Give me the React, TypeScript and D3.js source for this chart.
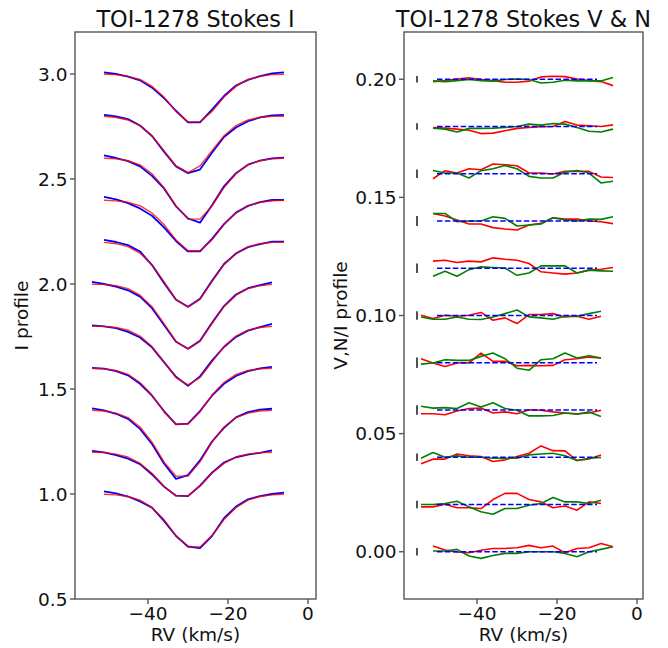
import React from "react";
import * as d3 from "d3";

const W = 668;
const H = 648;

// velocity grids (km/s)
const velA = [-51, -48, -45, -42, -39, -36, -33, -30, -27, -24, -21, -18, -15, -12, -9, -6];
const velB = [-54, -51, -48, -45, -42, -39, -36, -33, -30, -27, -24, -21, -18, -15, -12, -9];
// which grid each observation (bottom to top) uses
const rowGrid = ["A", "B", "B", "B", "B", "B", "A", "A", "A", "A", "A"];

const iOffsets = [0, 0.2, 0.4, 0.6, 0.8, 1.0, 1.2, 1.4, 1.6, 1.8, 2.0];
const vOffsets = [0, 0.02, 0.04, 0.06, 0.08, 0.1, 0.12, 0.14, 0.16, 0.18, 0.2];

// Stokes I observed (blue)
const iObs = [
  [1.012, 1.003, 0.988, 0.965, 0.935, 0.872, 0.8, 0.75, 0.742, 0.8, 0.885, 0.94, 0.975, 0.99, 1.0, 1.007],
  [1.005, 0.998, 0.985, 0.968, 0.942, 0.893, 0.835, 0.792, 0.79, 0.84, 0.902, 0.95, 0.975, 0.988, 0.996, 1.008],
  [1.008, 0.998, 0.982, 0.958, 0.91, 0.838, 0.745, 0.672, 0.69, 0.76, 0.85, 0.915, 0.965, 0.99, 1.002, 1.006],
  [1.0, 0.997, 0.985, 0.965, 0.925, 0.868, 0.795, 0.732, 0.735, 0.795, 0.868, 0.925, 0.962, 0.985, 0.998, 1.005],
  [1.003, 0.998, 0.99, 0.972, 0.945, 0.898, 0.828, 0.758, 0.715, 0.76, 0.835, 0.9, 0.948, 0.978, 0.995, 1.01],
  [1.01, 1.0, 0.988, 0.97, 0.94, 0.885, 0.805, 0.725, 0.692, 0.73, 0.815, 0.895, 0.95, 0.98, 0.995, 1.008],
  [1.01, 1.0, 0.985, 0.955, 0.89, 0.805, 0.725, 0.692, 0.73, 0.815, 0.895, 0.945, 0.975, 0.99, 1.002, 1.002],
  [1.015, 1.003, 0.985, 0.96, 0.925, 0.87, 0.805, 0.755, 0.755, 0.815, 0.885, 0.94, 0.972, 0.99, 1.0, 1.0],
  [1.012, 1.0, 0.985, 0.96, 0.915, 0.855, 0.77, 0.712, 0.692, 0.775, 0.865, 0.928, 0.968, 0.988, 0.998, 1.002],
  [1.005, 0.998, 0.985, 0.955, 0.905, 0.83, 0.76, 0.728, 0.745, 0.825, 0.9, 0.945, 0.975, 0.993, 1.003, 1.005],
  [1.008, 1.0, 0.988, 0.97, 0.935, 0.885, 0.825, 0.77, 0.77, 0.83, 0.895, 0.945, 0.972, 0.99, 1.003, 1.008],
];

// Stokes I model (red)
const iModel = [
  [0.999, 0.996, 0.988, 0.971, 0.935, 0.878, 0.802, 0.748, 0.748, 0.802, 0.878, 0.935, 0.971, 0.988, 0.996, 0.999],
  [0.999, 0.997, 0.99, 0.976, 0.946, 0.899, 0.837, 0.791, 0.791, 0.837, 0.899, 0.946, 0.976, 0.99, 0.997, 0.999],
  [0.998, 0.995, 0.985, 0.964, 0.919, 0.847, 0.753, 0.685, 0.685, 0.753, 0.847, 0.919, 0.964, 0.985, 0.995, 0.998],
  [0.999, 0.996, 0.988, 0.97, 0.931, 0.871, 0.791, 0.733, 0.733, 0.791, 0.871, 0.931, 0.97, 0.988, 0.996, 0.999],
  [0.999, 0.998, 0.993, 0.98, 0.952, 0.902, 0.829, 0.754, 0.72, 0.754, 0.829, 0.902, 0.952, 0.98, 0.993, 0.998],
  [0.999, 0.998, 0.992, 0.978, 0.947, 0.892, 0.811, 0.727, 0.69, 0.727, 0.811, 0.892, 0.947, 0.978, 0.992, 0.998],
  [0.998, 0.992, 0.978, 0.947, 0.892, 0.811, 0.727, 0.69, 0.727, 0.811, 0.892, 0.947, 0.978, 0.992, 0.998, 0.999],
  [0.999, 0.996, 0.989, 0.973, 0.938, 0.883, 0.81, 0.758, 0.758, 0.81, 0.883, 0.938, 0.973, 0.989, 0.996, 0.999],
  [0.999, 0.996, 0.987, 0.967, 0.925, 0.859, 0.772, 0.709, 0.709, 0.772, 0.859, 0.925, 0.967, 0.987, 0.996, 0.999],
  [0.998, 0.993, 0.981, 0.954, 0.906, 0.835, 0.762, 0.73, 0.762, 0.835, 0.906, 0.954, 0.981, 0.993, 0.998, 0.999],
  [0.999, 0.997, 0.989, 0.974, 0.941, 0.89, 0.821, 0.772, 0.772, 0.821, 0.89, 0.941, 0.974, 0.989, 0.997, 0.999],
];

// Stokes V / I (red)
const stokesV = [
  [0.0024, 0.0007, -0.0001, -0.0004, 0.0006, 0.0014, 0.0014, 0.0017, 0.0027, 0.0017, 0.0024, -0.0004, 0.0014, 0.0017, 0.0035, 0.0021],
  [-0.001, -0.001, 0.0001, -0.0014, -0.0014, -0.0017, 0.0021, 0.0047, 0.0047, 0.0021, 0.0011, -0.0014, -0.0006, -0.0024, 0.0011, 0.0004],
  [-0.0028, -0.0008, -0.0008, 0.0014, 0.0006, 0.0003, -0.0018, -0.0011, 0.0003, 0.0017, 0.0048, 0.0028, 0.0027, -0.0014, -0.0007, 0.001],
  [-0.0016, -0.0016, -0.002, -0.0004, 0.0006, 0.0008, -0.0013, -0.0008, -0.0016, 0.0001, -0.0001, -0.0008, -0.0013, -0.0016, -0.0013, -0.0001],
  [0.0017, -0.0001, -0.0016, -0.0001, -0.0001, 0.0041, 0.0006, 0.0006, -0.0013, -0.0011, -0.0013, -0.0011, 0.0013, 0.0017, 0.0024, 0.002],
  [0.0001, -0.0013, 0.0001, -0.0003, 0.0001, 0.0013, -0.002, -0.001, -0.0034, 0.0004, 0.0004, 0.0008, -0.0006, -0.0003, -0.0016, -0.0003],
  [0.003, 0.0034, 0.0024, 0.003, 0.0027, 0.0044, 0.0038, 0.0034, 0.002, -0.0015, -0.002, -0.0025, -0.002, -0.0008, -0.0004, 0.0003],
  [0.0032, 0.0021, 0.0004, -0.0013, -0.0013, -0.0028, -0.0034, -0.0038, -0.0017, -0.001, 0.0014, 0.0008, 0.0008, 0.0, -0.0003, -0.0011],
  [-0.0021, 0.0013, 0.0003, 0.0021, 0.0017, 0.0041, 0.0038, 0.0034, 0.0003, 0.0003, -0.0001, 0.001, 0.001, 0.001, -0.0014, -0.0016],
  [-0.0004, -0.0007, -0.0011, -0.0016, -0.003, -0.0028, -0.0018, -0.0008, -0.0004, -0.0001, 0.0, 0.0021, 0.0006, 0.0003, 0.0, 0.0007],
  [-0.001, -0.0006, 0.0001, 0.0006, -0.0001, -0.0006, -0.0013, -0.0013, -0.0008, 0.001, 0.0013, 0.0011, 0.0001, -0.0006, -0.001, -0.0027],
];

// Null / I (green)
const stokesN = [
  [0.0003, 0.0003, 0.001, -0.0018, -0.0028, -0.0016, -0.0007, -0.0007, 0.0, 0.0, 0.0, -0.0007, -0.0021, 0.0, 0.001, 0.0021],
  [0.0, 0.0, 0.0004, 0.0014, -0.001, -0.0031, -0.0041, -0.0017, -0.0017, -0.0003, 0.0004, 0.003, 0.0011, 0.0011, 0.0004, 0.0018],
  [-0.0004, 0.002, 0.0, 0.0006, 0.0, 0.0, -0.0004, -0.0004, -0.0004, 0.001, 0.0014, 0.0017, 0.0006, -0.0014, -0.0004, -0.0001],
  [0.0016, 0.0008, 0.001, 0.0006, 0.0031, 0.0013, 0.0031, 0.0006, -0.0001, -0.0025, -0.0025, -0.0023, -0.0013, -0.0018, -0.0008, -0.0027],
  [-0.0006, -0.0001, 0.0013, 0.001, 0.001, 0.0027, 0.0041, 0.0017, -0.0023, -0.0032, 0.0013, 0.0017, 0.0041, 0.002, 0.003, 0.002],
  [-0.0006, -0.0016, -0.0016, -0.0006, -0.0016, -0.0017, -0.0006, 0.0008, 0.0023, -0.0006, -0.001, -0.0016, -0.0003, -0.0003, 0.0008, 0.0018],
  [-0.0034, -0.0013, -0.0034, -0.0006, 0.0006, 0.0003, 0.0001, -0.003, -0.002, 0.001, 0.001, 0.001, -0.002, -0.0008, -0.0011, -0.0013],
  [0.0032, 0.0032, -0.0003, 0.0, 0.0, 0.0018, 0.0011, -0.0021, -0.0017, -0.0013, 0.0014, 0.0004, 0.0, 0.0008, 0.0007, 0.0018],
  [0.0014, 0.0003, 0.0003, -0.0018, 0.0013, 0.0021, 0.0035, 0.0021, -0.0011, -0.0018, -0.0018, 0.0007, 0.0014, 0.0003, -0.0039, -0.0032],
  [-0.0007, -0.0011, -0.0023, -0.0008, -0.0008, -0.0007, -0.0004, 0.0, 0.001, 0.0006, 0.0013, 0.001, -0.0004, -0.002, -0.0023, -0.0011],
  [-0.0007, -0.001, -0.0006, -0.0001, -0.0006, -0.0008, -0.0001, 0.0001, -0.0001, -0.0016, -0.0013, -0.0004, -0.0007, -0.0007, -0.0007, 0.0007],
];

const vErrors = [0.0016, 0.0016, 0.0016, 0.002, 0.0022, 0.0018, 0.002, 0.0021, 0.0018, 0.0014, 0.0014];
const zeroLineRange = [-50, -10];
const errorBarVel = -55;

const leftYTicks = [0.5, 1.0, 1.5, 2.0, 2.5, 3.0];
const rightYTicks = [0.0, 0.05, 0.1, 0.15, 0.2];
const xTicks = [-40, -20, 0];

const FONT = "'DejaVu Sans', 'Liberation Sans', sans-serif";
const TICK_FS = 18.5;
const TITLE_FS = 22.4;

const fmtMinus = (s: string) => s.replace("-", "\u2212");

type Scale = d3.ScaleLinear<number, number>;

function Frame({ x, y, left, right, top, bottom, yTicks, yFmt, title, ylabel, ylabelX }: {
  x: Scale; y: Scale; left: number; right: number; top: number; bottom: number;
  yTicks: number[]; yFmt: (v: number) => string; title: string; ylabel: string; ylabelX: number;
}) {
  const cy = (top + bottom) / 2;
  return (
    <g>
      <rect x={left} y={top} width={right - left} height={bottom - top} fill="none" stroke="#555" strokeWidth={1.4} />
      {xTicks.map((t) => (
        <g key={"x" + t}>
          <line x1={x(t)} x2={x(t)} y1={bottom} y2={bottom + 5} stroke="#555" strokeWidth={1.4} />
          <text x={x(t)} y={620} textAnchor="middle" fontSize={TICK_FS} fontFamily={FONT} fill="#111">
            {fmtMinus(String(t))}
          </text>
        </g>
      ))}
      {yTicks.map((t) => (
        <g key={"y" + t}>
          <line x1={left - 5} x2={left} y1={y(t)} y2={y(t)} stroke="#555" strokeWidth={1.4} />
          <text x={left - 7.5} y={y(t)} dy="0.36em" textAnchor="end" fontSize={TICK_FS} fontFamily={FONT} fill="#111">
            {yFmt(t)}
          </text>
        </g>
      ))}
      <text x={(left + right) / 2} y={641} textAnchor="middle" fontSize={TICK_FS} fontFamily={FONT} fill="#111">
        RV (km/s)
      </text>
      <text x={(left + right) / 2} y={27} textAnchor="middle" fontSize={TITLE_FS} fontFamily={FONT} fill="#111">
        {title}
      </text>
      <text transform={`translate(${ylabelX},${cy}) rotate(-90)`} textAnchor="middle" fontSize={TICK_FS} fontFamily={FONT} fill="#111">
        {ylabel}
      </text>
    </g>
  );
}

export default function App() {
  const L = { left: 75, right: 316, top: 32, bottom: 599 };
  const R = { left: 404, right: 643, top: 32, bottom: 599 };
  const xL = d3.scaleLinear().domain([-58.25, 2]).range([L.left, L.right]);
  const yL = d3.scaleLinear().domain([0.5, 3.2]).range([L.bottom, L.top]);
  const xR = d3.scaleLinear().domain([-58.25, 1.5]).range([R.left, R.right]);
  const yR = d3.scaleLinear().domain([-0.02, 0.22]).range([R.bottom, R.top]);

  const grid = (i: number) => (rowGrid[i] === "A" ? velA : velB);

  const lineL = (vals: number[], i: number) =>
    d3.line<number>().x((_, k) => xL(grid(i)[k])).y((v) => yL(v + iOffsets[i]))(vals) || "";
  const lineR = (vals: number[], i: number) =>
    d3.line<number>().x((_, k) => xR(grid(i)[k])).y((v) => yR(v + vOffsets[i]))(vals) || "";

  return (
    <svg width={W} height={H} style={{ position: "absolute", left: 0, top: 0, background: "#fff" }}>
      <rect x={0} y={0} width={W} height={H} fill="#fff" />
      <defs>
        <clipPath id="clipL"><rect x={L.left} y={L.top} width={L.right - L.left} height={L.bottom - L.top} /></clipPath>
        <clipPath id="clipR"><rect x={R.left} y={R.top} width={R.right - R.left} height={R.bottom - R.top} /></clipPath>
      </defs>

      <g clipPath="url(#clipL)">
        {iObs.map((vals, i) => (
          <path key={"b" + i} d={lineL(vals, i)} fill="none" stroke="#0000ff" strokeWidth={1.8} strokeLinejoin="round" />
        ))}
        {iModel.map((vals, i) => (
          <path key={"r" + i} d={lineL(vals, i)} fill="none" stroke="#ff0000" strokeWidth={1.4} strokeLinejoin="round" opacity={0.8} />
        ))}
      </g>

      <g clipPath="url(#clipR)">
        {stokesV.map((vals, i) => (
          <path key={"v" + i} d={lineR(vals, i)} fill="none" stroke="#ff0000" strokeWidth={1.6} strokeLinejoin="round" />
        ))}
        {stokesN.map((vals, i) => (
          <path key={"n" + i} d={lineR(vals, i)} fill="none" stroke="#008000" strokeWidth={1.6} strokeLinejoin="round" />
        ))}
        {vOffsets.map((o, i) => (
          <line key={"z" + i} x1={xR(zeroLineRange[0])} x2={xR(zeroLineRange[1])} y1={yR(o)} y2={yR(o)}
            stroke="#0000ff" strokeWidth={1.5} strokeDasharray="5.5,2.4" />
        ))}
        {vOffsets.map((o, i) => (
          <line key={"e" + i} x1={xR(errorBarVel)} x2={xR(errorBarVel)} y1={yR(o - vErrors[i])} y2={yR(o + vErrors[i])}
            stroke="#333" strokeWidth={1.7} />
        ))}
      </g>

      <Frame x={xL} y={yL} {...L} yTicks={leftYTicks} yFmt={(v) => v.toFixed(1)}
        title="TOI-1278 Stokes I" ylabel="I profile" ylabelX={28} />
      <Frame x={xR} y={yR} {...R} yTicks={rightYTicks} yFmt={(v) => v.toFixed(2)}
        title="TOI-1278 Stokes V & N" ylabel="V,N/I profile" ylabelX={347} />
    </svg>
  );
}
